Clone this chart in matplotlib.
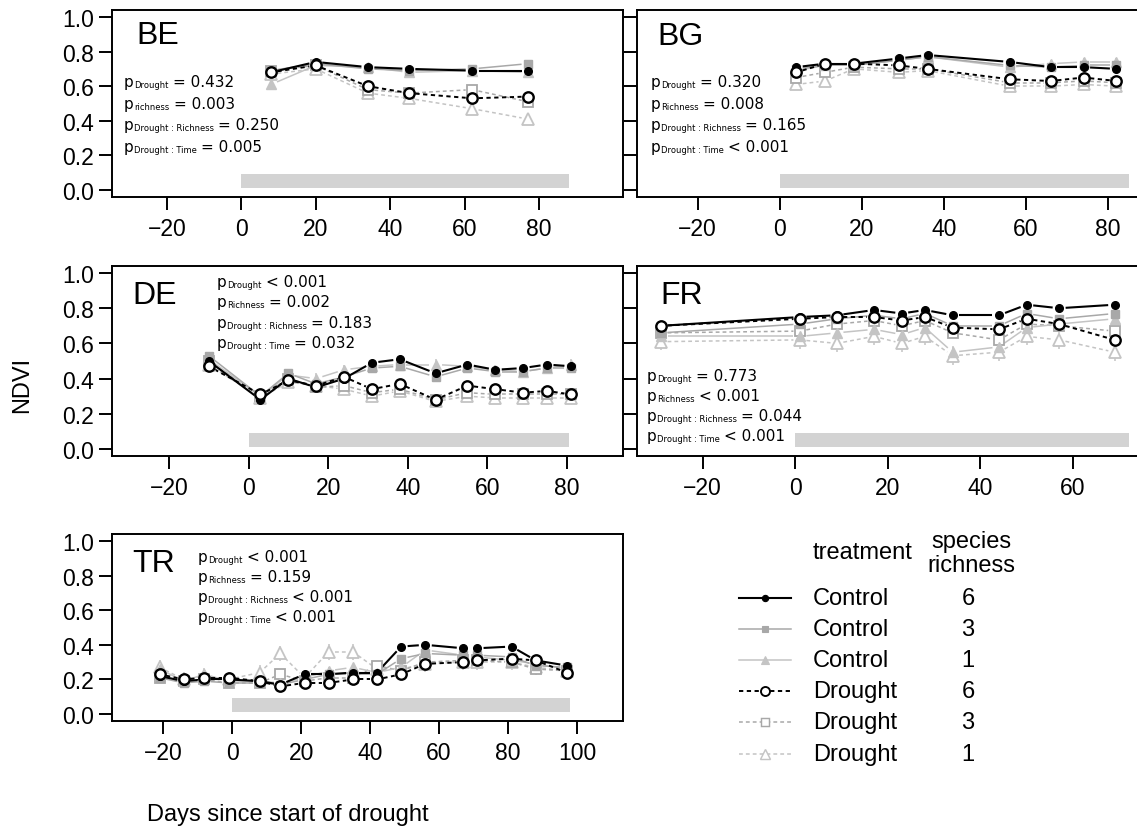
"""
NDVI par site (BE, BG, DE, FR, TR) : controle vs secheresse, richesse 6/3/1.
"""
import numpy as np
import matplotlib
matplotlib.use("Agg")
import matplotlib.pyplot as plt

W, H = 1137, 837

# ---------------------------------------------------------------------------
# donnees
# ---------------------------------------------------------------------------
BE_DAYS = [8, 20, 34, 45, 62, 77]
BE_C6 = [0.68, 0.74, 0.71, 0.70, 0.69, 0.69]
BE_C3 = [0.69, 0.73, 0.70, 0.69, 0.70, 0.73]
BE_C1 = [0.61, 0.72, 0.71, 0.68, 0.69, 0.68]
BE_D6 = [0.68, 0.72, 0.60, 0.56, 0.53, 0.54]
BE_D3 = [0.69, 0.72, 0.58, 0.56, 0.58, 0.51]
BE_D1 = [0.67, 0.70, 0.56, 0.53, 0.47, 0.41]
BE_SE = [0.015, 0.02, 0.02, 0.02, 0.025, 0.035]
BE_END = 88

BG_DAYS = [4, 11, 18, 29, 36, 56, 66, 74, 82]
BG_C6 = [0.71, 0.73, 0.73, 0.76, 0.78, 0.74, 0.71, 0.71, 0.70]
BG_C3 = [0.70, 0.72, 0.72, 0.75, 0.77, 0.72, 0.71, 0.72, 0.72]
BG_C1 = [0.69, 0.72, 0.72, 0.75, 0.77, 0.71, 0.73, 0.74, 0.74]
BG_D6 = [0.68, 0.73, 0.73, 0.72, 0.70, 0.64, 0.63, 0.65, 0.63]
BG_D3 = [0.65, 0.68, 0.71, 0.70, 0.70, 0.62, 0.62, 0.63, 0.62]
BG_D1 = [0.61, 0.63, 0.70, 0.68, 0.69, 0.60, 0.60, 0.61, 0.60]
BG_SE = [0.015, 0.02, 0.02, 0.015, 0.02, 0.03]
BG_END = 85

DE_DAYS = [-10, 3, 10, 17, 24, 31, 38, 47, 55, 62, 69, 75, 81]
DE_C6 = [0.50, 0.28, 0.40, 0.35, 0.40, 0.49, 0.51, 0.43, 0.48, 0.45, 0.46, 0.48, 0.47]
DE_C3 = [0.53, 0.30, 0.43, 0.37, 0.41, 0.46, 0.47, 0.41, 0.46, 0.44, 0.44, 0.46, 0.46]
DE_C1 = [0.51, 0.30, 0.42, 0.40, 0.45, 0.47, 0.48, 0.48, 0.47, 0.45, 0.44, 0.46, 0.48]
DE_D6 = [0.47, 0.31, 0.39, 0.36, 0.41, 0.34, 0.37, 0.28, 0.36, 0.34, 0.32, 0.33, 0.31]
DE_D3 = [0.50, 0.30, 0.40, 0.35, 0.36, 0.32, 0.34, 0.28, 0.32, 0.31, 0.31, 0.31, 0.31]
DE_D1 = [0.48, 0.29, 0.38, 0.36, 0.34, 0.30, 0.33, 0.27, 0.30, 0.29, 0.29, 0.29, 0.29]
DE_SE = [0.015, 0.02, 0.03, 0.015, 0.02, 0.03]
DE_END = 80.5

FR_DAYS = [-29, 1, 9, 17, 23, 28, 34, 44, 50, 57, 69]
FR_C6 = [0.70, 0.75, 0.76, 0.79, 0.77, 0.79, 0.76, 0.76, 0.82, 0.80, 0.82]
FR_C3 = [0.66, 0.71, 0.74, 0.76, 0.74, 0.77, 0.70, 0.70, 0.77, 0.74, 0.77]
FR_C1 = [0.64, 0.64, 0.66, 0.68, 0.65, 0.69, 0.55, 0.58, 0.69, 0.71, 0.74]
FR_D6 = [0.70, 0.74, 0.75, 0.75, 0.73, 0.75, 0.69, 0.68, 0.74, 0.71, 0.62]
FR_D3 = [0.66, 0.67, 0.71, 0.73, 0.70, 0.73, 0.66, 0.62, 0.71, 0.70, 0.67]
FR_D1 = [0.61, 0.62, 0.60, 0.64, 0.60, 0.64, 0.53, 0.55, 0.64, 0.62, 0.55]
FR_SE = [0.015, 0.02, 0.035, 0.015, 0.03, 0.05]
FR_END = 72

TR_DAYS = [-21, -14, -8, -1, 8, 14, 21, 28, 35, 42, 49, 56, 67, 71, 81, 88, 97]
TR_C6 = [0.22, 0.19, 0.20, 0.20, 0.19, 0.17, 0.23, 0.23, 0.24, 0.24, 0.39, 0.40, 0.38, 0.38, 0.39, 0.31, 0.28]
TR_C3 = [0.21, 0.18, 0.19, 0.18, 0.18, 0.17, 0.20, 0.23, 0.23, 0.23, 0.32, 0.35, 0.34, 0.34, 0.33, 0.28, 0.27]
TR_C1 = [0.26, 0.19, 0.23, 0.19, 0.19, 0.18, 0.21, 0.25, 0.27, 0.24, 0.27, 0.37, 0.34, 0.33, 0.31, 0.29, 0.26]
TR_D6 = [0.23, 0.20, 0.21, 0.21, 0.19, 0.16, 0.18, 0.18, 0.20, 0.20, 0.23, 0.29, 0.30, 0.31, 0.32, 0.31, 0.24]
TR_D3 = [0.21, 0.19, 0.20, 0.18, 0.18, 0.23, 0.19, 0.21, 0.21, 0.28, 0.25, 0.30, 0.31, 0.31, 0.30, 0.26, 0.25]
TR_D1 = [0.27, 0.20, 0.22, 0.20, 0.24, 0.35, 0.21, 0.36, 0.36, 0.26, 0.26, 0.29, 0.30, 0.30, 0.30, 0.27, 0.25]
TR_SE = [0.015, 0.02, 0.02, 0.015, 0.02, 0.045]
TR_END = 98

# p-values (terme, signe + valeur)
BE_P = [("Drought", "= 0.432"), ("richness", "= 0.003"),
        ("Drought : Richness", "= 0.250"), ("Drought : Time", "= 0.005")]
BG_P = [("Drought", "= 0.320"), ("Richness", "= 0.008"),
        ("Drought : Richness", "= 0.165"), ("Drought : Time", "< 0.001")]
DE_P = [("Drought", "< 0.001"), ("Richness", "= 0.002"),
        ("Drought : Richness", "= 0.183"), ("Drought : Time", "= 0.032")]
FR_P = [("Drought", "= 0.773"), ("Richness", "< 0.001"),
        ("Drought : Richness", "= 0.044"), ("Drought : Time", "< 0.001")]
TR_P = [("Drought", "< 0.001"), ("Richness", "= 0.159"),
        ("Drought : Richness", "< 0.001"), ("Drought : Time", "< 0.001")]

TREATMENTS = ["Control", "Control", "Control", "Drought", "Drought", "Drought"]
RICHNESS = ["6", "3", "1", "6", "3", "1"]

SITES = {
    "BE": dict(days=BE_DAYS, series=[BE_C6, BE_C3, BE_C1, BE_D6, BE_D3, BE_D1], se=BE_SE, end=BE_END, p=BE_P),
    "BG": dict(days=BG_DAYS, series=[BG_C6, BG_C3, BG_C1, BG_D6, BG_D3, BG_D1], se=BG_SE, end=BG_END, p=BG_P),
    "DE": dict(days=DE_DAYS, series=[DE_C6, DE_C3, DE_C1, DE_D6, DE_D3, DE_D1], se=DE_SE, end=DE_END, p=DE_P),
    "FR": dict(days=FR_DAYS, series=[FR_C6, FR_C3, FR_C1, FR_D6, FR_D3, FR_D1], se=FR_SE, end=FR_END, p=FR_P),
    "TR": dict(days=TR_DAYS, series=[TR_C6, TR_C3, TR_C1, TR_D6, TR_D3, TR_D1], se=TR_SE, end=TR_END, p=TR_P),
}

# ---------------------------------------------------------------------------
# mise en page (pixels) et styles
# ---------------------------------------------------------------------------
LAYOUT = {
    # box (l, t, r, b), xlim, xticks, label pos, p-text (x, baseline, step)
    "BE": dict(box=(112, 11, 623, 198), xlim=(-34.7, 102.5), xt=range(-20, 81, 20),
               lab=(136, 36), ptxt=(124, 87, 21.5), ylab=True),
    "BG": dict(box=(637, 11, 1148, 198), xlim=(-34.8, 89.7), xt=range(-20, 81, 20),
               lab=(657, 37), ptxt=(651, 87, 21.5), ylab=False),
    "DE": dict(box=(112, 267, 623, 457), xlim=(-34.3, 94.1), xt=range(-20, 81, 20),
               lab=(132, 296), ptxt=(217, 287, 20.3), ylab=True),
    "FR": dict(box=(637, 267, 1148, 457), xlim=(-34.2, 76.2), xt=range(-20, 61, 20),
               lab=(660, 296), ptxt=(647, 381, 20.1), ylab=False),
    "TR": dict(box=(112, 535, 623, 722), xlim=(-34.8, 113.3), xt=range(-20, 101, 20),
               lab=(132, 564), ptxt=(198, 562, 20.1), ylab=True),
}

GREY = "#a8a8a8"
LGREY = "#c4c4c4"
STYLES = [
    dict(color="black", ls="-", lw=1.5, marker="o", ms=5.5, mfc="black", mew=1.0),
    dict(color=GREY, ls="-", lw=1.1, marker="s", ms=5.5, mfc=GREY, mew=1.0),
    dict(color=LGREY, ls="-", lw=1.1, marker="^", ms=7.0, mfc=LGREY, mew=1.0),
    dict(color="black", ls=(0, (2.2, 1.8)), lw=1.4, marker="o", ms=7.5, mfc="white", mew=1.7),
    dict(color=GREY, ls=(0, (2.5, 2.0)), lw=1.1, marker="s", ms=7.0, mfc="white", mew=1.3),
    dict(color=LGREY, ls=(0, (2.5, 2.0)), lw=1.1, marker="^", ms=8.0, mfc="white", mew=1.3),
]
DRAW_ORDER = [5, 4, 2, 1, 0, 3]

plt.rcParams["font.family"] = ["Liberation Sans", "DejaVu Sans"]


def px_rect(l, t, r, b):
    return [l / W, 1 - b / H, (r - l) / W, (b - t) / H]


def draw_b(ax, x, y, st, gap=6.5):
    """lignes type 'b' de R : segments interrompus autour des points."""
    pts = ax.transData.transform(np.column_stack([x, y]))
    inv = ax.transData.inverted()
    for a, b in zip(pts[:-1], pts[1:]):
        d = b - a
        L = np.hypot(*d)
        if L <= 2 * gap + 1:
            continue
        u = d / L
        seg = inv.transform(np.array([a + u * gap, b - u * gap]))
        ax.plot(seg[:, 0], seg[:, 1], color=st["color"], ls=st["ls"], lw=st["lw"],
                solid_capstyle="butt", dash_capstyle="butt", zorder=2)


def p_text(lax, x, y, sub, rest):
    p = lax.text(x, y, "p", fontsize=11, family="DejaVu Sans", va="baseline", ha="left")
    s = lax.annotate(sub, xy=(1, 0), xycoords=p, xytext=(0.2, 0), textcoords="offset points",
                     fontsize=6, family="DejaVu Sans", va="bottom", ha="left")
    lax.annotate(rest, xy=(1, 0), xycoords=(s, p), xytext=(3.2, 0), textcoords="offset points",
                 fontsize=11, family="DejaVu Sans", va="bottom", ha="left")


fig = plt.figure(figsize=(W / 100, H / 100), dpi=100)
fig.patch.set_facecolor("white")

# calque en pixels pour les textes et la legende
lax = fig.add_axes([0, 0, 1, 1], zorder=10)
lax.set_xlim(0, W)
lax.set_ylim(H, 0)
lax.axis("off")

for site, d in SITES.items():
    lay = LAYOUT[site]
    ax = fig.add_axes(px_rect(*lay["box"]))
    ax.set_xlim(*lay["xlim"])
    ax.set_ylim(-0.04, 1.04)
    for sp in ax.spines.values():
        sp.set_linewidth(1.4)
    ax.set_xticks(list(lay["xt"]))
    ax.set_yticks([0.0, 0.2, 0.4, 0.6, 0.8, 1.0])
    ax.set_yticklabels(["0.0", "0.2", "0.4", "0.6", "0.8", "1.0"])
    ax.tick_params(axis="both", direction="out", length=9.5, width=1.4, labelsize=16.5)
    ax.tick_params(axis="x", pad=5)
    ax.tick_params(axis="y", pad=3.5, labelleft=lay["ylab"])

    # periode de secheresse
    ax.fill_between([0, d["end"]], 0.01, 0.09, color="#d3d3d3", lw=0, zorder=1)

    days = np.asarray(d["days"], dtype=float)
    for k in DRAW_ORDER:
        st = STYLES[k]
        vals = np.asarray(d["series"][k])
        se = d["se"][k]
        ax.vlines(days, vals - se, vals + se, color=st["color"], lw=1.1, zorder=2)
        draw_b(ax, days, vals, st)
        ax.plot(days, vals, ls="none", marker=st["marker"], ms=st["ms"], mfc=st["mfc"],
                mec=st["color"], mew=st["mew"], zorder=3)

    lx, ly = lay["lab"]
    lax.text(lx, ly, site, fontsize=23, va="center", ha="left")
    px, py, step = lay["ptxt"]
    for i, (sub, rest) in enumerate(d["p"]):
        p_text(lax, px, py + i * step, sub, rest)

# axes labels
lax.text(22, 385, "NDVI", fontsize=17, rotation=90, ha="center", va="center")
lax.text(288, 815, "Days since start of drought", fontsize=17, ha="center", va="center")

# legende
LEG_Y = [599, 630, 661, 692, 723, 755]
lax.text(813, 553, "treatment", fontsize=17, ha="left", va="center")
lax.text(971, 554, "species\nrichness", fontsize=17, ha="center", va="center", linespacing=1.15)
for k, yy in enumerate(LEG_Y):
    st = STYLES[k]
    lax.plot([739, 791], [yy, yy], color=st["color"], ls=st["ls"], lw=st["lw"])
    lax.plot([765], [yy], ls="none", marker=st["marker"], ms=st["ms"] - 1, mfc=st["mfc"],
             mec=st["color"], mew=st["mew"] * 0.8)
    lax.text(813, yy, TREATMENTS[k], fontsize=17, ha="left", va="center")
    lax.text(968, yy, RICHNESS[k], fontsize=17, ha="center", va="center")

fig.savefig("out.png", dpi=100, facecolor="white")
